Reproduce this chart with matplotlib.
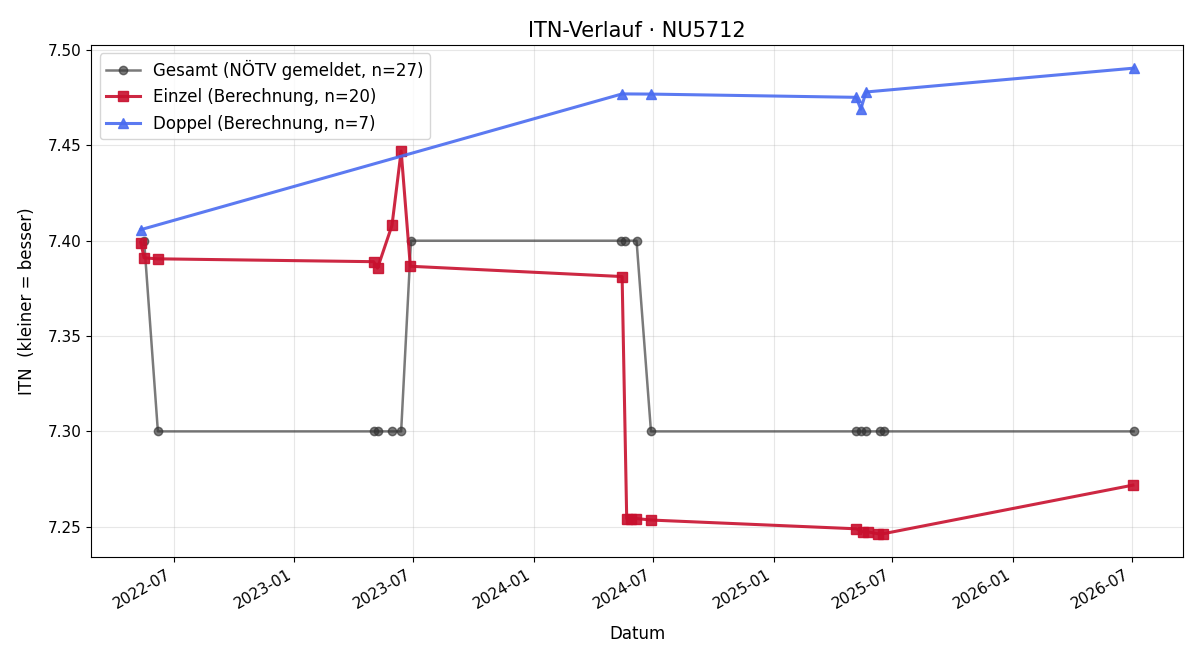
import matplotlib
matplotlib.use("Agg")
import matplotlib.pyplot as plt
import matplotlib.dates as mdates
import pandas as pd

gesamt_dates = ["2022-05-17", "2022-06-07", "2023-05-02", "2023-05-09", "2023-05-30",
                "2023-06-13", "2023-06-28", "2024-05-14", "2024-05-19", "2024-06-06",
                "2024-06-28", "2025-05-07", "2025-05-14", "2025-05-22", "2025-06-12",
                "2025-06-19", "2026-07-04"]
gesamt_itn = [7.40, 7.30, 7.30, 7.30, 7.30, 7.30, 7.40, 7.40, 7.40, 7.40,
              7.30, 7.30, 7.30, 7.30, 7.30, 7.30, 7.30]

einzel_dates = ["2022-05-12", "2022-05-17", "2022-06-07", "2023-05-02", "2023-05-08",
                "2023-05-30", "2023-06-13", "2023-06-27", "2024-05-15", "2024-05-22",
                "2024-05-29", "2024-06-05", "2024-06-28", "2025-05-07", "2025-05-17",
                "2025-05-25", "2025-06-09", "2025-06-17", "2026-07-03"]
einzel_itn = [7.399, 7.391, 7.3905, 7.389, 7.3856, 7.408, 7.447, 7.3866, 7.3812, 7.2543,
              7.2543, 7.2543, 7.2535, 7.2489, 7.2473, 7.2473, 7.2463, 7.2463, 7.2718]

doppel_dates = ["2022-05-12", "2024-05-15", "2024-06-28", "2025-05-07", "2025-05-14",
                "2025-05-22", "2026-07-04"]
doppel_itn = [7.4058, 7.4770, 7.4769, 7.4752, 7.4690, 7.4780, 7.4905]

fig, ax = plt.subplots(figsize=(12, 6.6), dpi=100)

ax.plot(pd.to_datetime(gesamt_dates), gesamt_itn, color="#333333", alpha=0.65, lw=1.8,
        marker="o", markersize=6, label="Gesamt (NÖTV gemeldet, n=27)")
ax.plot(pd.to_datetime(einzel_dates), einzel_itn, color="#c8102e", alpha=0.9, lw=2.2,
        marker="s", markersize=7, label="Einzel (Berechnung, n=20)")
ax.plot(pd.to_datetime(doppel_dates), doppel_itn, color="#4a6cf0", alpha=0.9, lw=2.2,
        marker="^", markersize=7, label="Doppel (Berechnung, n=7)")

ax.set_title("ITN-Verlauf · NU5712", fontsize=15)
ax.set_xlabel("Datum", fontsize=12, labelpad=10)
ax.set_ylabel("ITN  (kleiner = besser)", fontsize=12, labelpad=8)
ax.grid(True, alpha=0.3)
ax.xaxis.set_major_locator(mdates.MonthLocator(bymonth=[1, 7]))
ax.xaxis.set_major_formatter(mdates.DateFormatter("%Y-%m"))
ax.tick_params(labelsize=11)
ax.legend(loc="upper left", fontsize=12)
fig.autofmt_xdate()
fig.subplots_adjust(left=0.076, right=0.986, top=0.932, bottom=0.156)
fig.savefig("out.png", dpi=100)
